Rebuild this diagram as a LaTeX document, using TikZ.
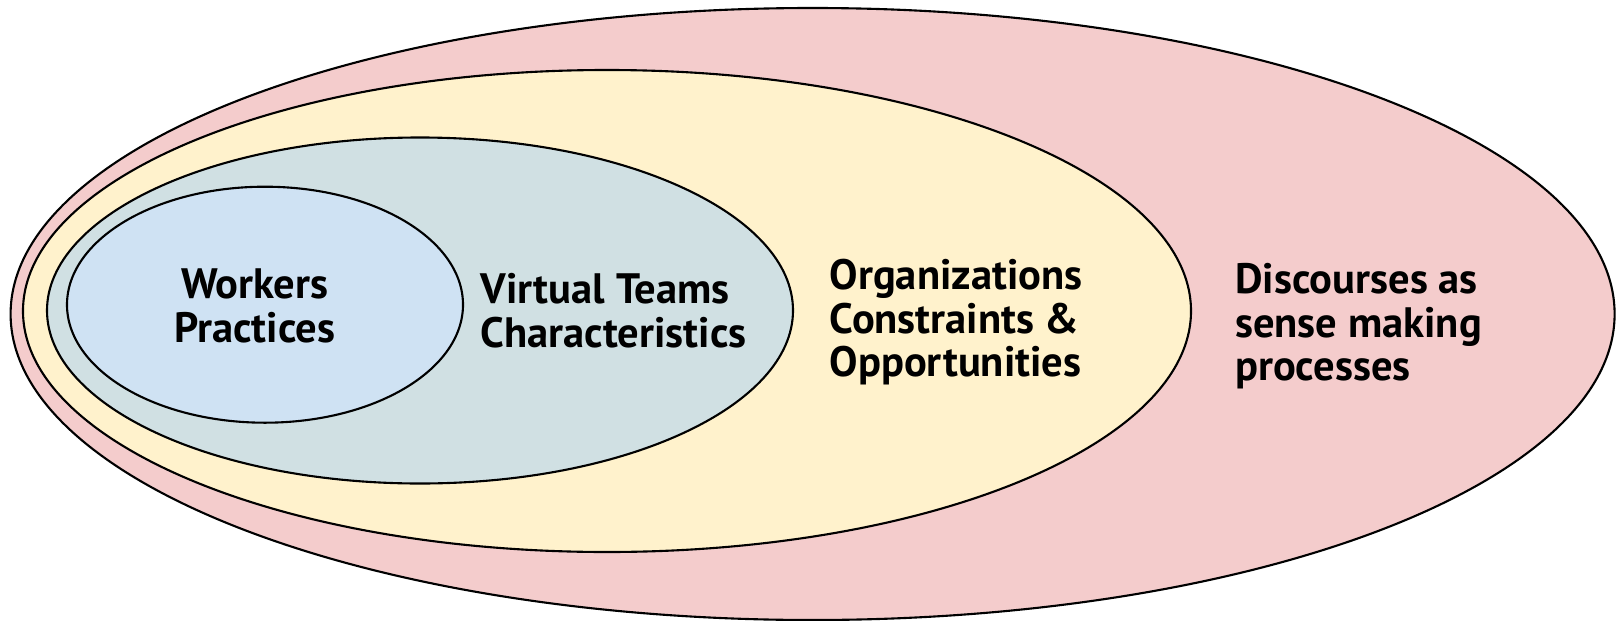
\documentclass[tikz,border=0pt]{standalone}
\usepackage{fontspec}
\setmainfont{PT Sans}
\usetikzlibrary{shapes.geometric,positioning}

\definecolor{pinkfill}{HTML}{F4CCCC}
\definecolor{yellowfill}{HTML}{FFF2CC}
\definecolor{tealfill}{HTML}{D0E0E3}
\definecolor{bluefill}{HTML}{CFE2F3}

\begin{document}
\begin{tikzpicture}[
    ring/.style={ellipse, draw, line width=0.6pt, inner sep=0pt},
    label/.style={inner sep=0pt, font=\fontsize{12.1}{12.4}\selectfont\bfseries}
]

\useasboundingbox (0,0) rectangle (16.17,6.2);

% Nested ellipses, outermost first
\node at (8.126,3.06) [ring, fill=pinkfill, minimum width=16.04cm, minimum height=6.12cm] (discourse) {};
\node at (6.07,3.09) [ring, fill=yellowfill, minimum width=11.68cm, minimum height=4.82cm] (orga) {};
\node at (4.20,3.095) [ring, fill=tealfill, minimum width=7.46cm, minimum height=3.46cm] (team) {};
\node at (2.65,3.153) [ring, fill=bluefill, minimum width=3.96cm, minimum height=2.36cm] (worker) {};

% Labels (anchored on the baseline of the last line)
\node at (2.547,2.78) [label, align=center, anchor=base] (workerlbl) {Workers\\Practices};
\node at (4.80,2.725) [label, align=left, anchor=base west] (teamlbl) {Virtual Teams\\Characteristics};
\node at (8.29,2.432) [label, align=left, anchor=base west] (orgalbl) {Organizations\\Constraints \&\\Opportunities};
\node at (12.345,2.391) [label, align=left, anchor=base west] (discourselbl) {Discourses as\\sense making\\processes};

\end{tikzpicture}
\end{document}
